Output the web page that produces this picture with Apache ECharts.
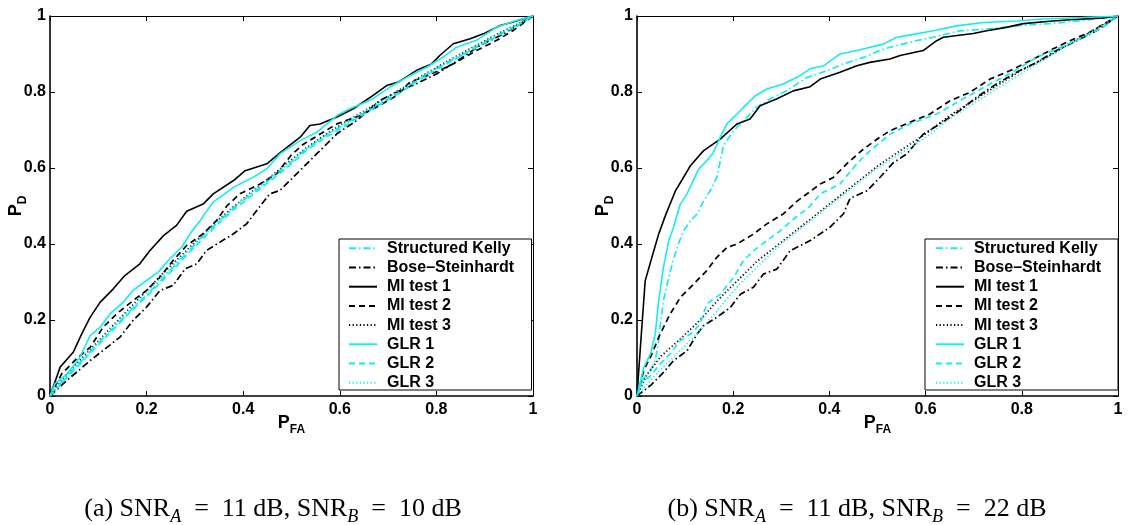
<!DOCTYPE html>
<html><head><meta charset="utf-8">
<script src="https://cdn.jsdelivr.net/npm/echarts@6/dist/echarts.min.js"></script>
<style>html,body{margin:0;padding:0;background:#fff}#c{width:1128px;height:525px}</style>
</head><body><div id="c"></div>
<script>
const seriesNames = ['Structured Kelly','Bose\u2013Steinhardt','MI test 1','MI test 2','MI test 3','GLR 1','GLR 2','GLR 3'];
const tickValues = [0, 0.2, 0.4, 0.6, 0.8, 1];
const captionA = '(a) SNR{s|A}\u2002=\u200211 dB, SNR{s|B}\u2002=\u200210 dB';
const captionB = '(b) SNR{s|A}\u2002=\u200211 dB, SNR{s|B}\u2002=\u200222 dB';

// Panel (a): SNR_A = 11 dB, SNR_B = 10 dB   [P_FA, P_D]
const a_kelly = [[0,0],[0.02,0.03],[0.05,0.072],[0.08,0.112],[0.11,0.152],[0.14,0.19],[0.17,0.23],[0.2,0.265],[0.23,0.305],[0.26,0.345],[0.29,0.385],[0.32,0.425],[0.35,0.46],[0.38,0.495],[0.41,0.525],[0.45,0.565],[0.49,0.605],[0.53,0.65],[0.57,0.685],[0.61,0.715],[0.65,0.745],[0.69,0.775],[0.73,0.805],[0.77,0.84],[0.81,0.87],[0.85,0.895],[0.89,0.925],[0.93,0.952],[0.97,0.978],[1,1]];
const a_bs = [[0,0],[0.035,0.041],[0.059,0.067],[0.083,0.093],[0.11,0.12],[0.145,0.155],[0.172,0.199],[0.2,0.234],[0.228,0.278],[0.255,0.291],[0.28,0.335],[0.304,0.348],[0.324,0.383],[0.352,0.405],[0.38,0.427],[0.407,0.453],[0.428,0.488],[0.455,0.532],[0.476,0.541],[0.511,0.585],[0.552,0.637],[0.594,0.69],[0.635,0.725],[0.683,0.778],[0.725,0.804],[0.759,0.822],[0.801,0.848],[0.849,0.887],[0.89,0.922],[0.939,0.953],[1,1]];
const a_mi1 = [[0,0],[0.021,0.076],[0.048,0.115],[0.066,0.164],[0.083,0.207],[0.104,0.247],[0.131,0.282],[0.155,0.317],[0.186,0.348],[0.207,0.383],[0.235,0.422],[0.262,0.449],[0.283,0.486],[0.317,0.505],[0.338,0.532],[0.38,0.567],[0.404,0.593],[0.449,0.611],[0.476,0.64],[0.518,0.681],[0.538,0.712],[0.559,0.716],[0.594,0.734],[0.628,0.756],[0.669,0.791],[0.697,0.817],[0.721,0.826],[0.759,0.857],[0.79,0.874],[0.807,0.896],[0.835,0.927],[0.87,0.94],[0.897,0.953],[0.932,0.975],[0.959,0.984],[1,1]];
const a_mi2 = [[0,0],[0.024,0.058],[0.055,0.098],[0.083,0.128],[0.11,0.181],[0.138,0.216],[0.172,0.251],[0.2,0.278],[0.228,0.313],[0.255,0.357],[0.283,0.396],[0.317,0.427],[0.345,0.462],[0.366,0.5],[0.393,0.532],[0.435,0.558],[0.469,0.585],[0.5,0.635],[0.524,0.662],[0.594,0.716],[0.642,0.738],[0.676,0.76],[0.718,0.791],[0.745,0.826],[0.773,0.839],[0.807,0.857],[0.835,0.874],[0.883,0.909],[0.925,0.936],[0.959,0.962],[1,1]];
const a_mi3 = [[0,0],[0.02,0.035],[0.05,0.078],[0.08,0.118],[0.11,0.158],[0.14,0.198],[0.17,0.238],[0.2,0.278],[0.23,0.318],[0.26,0.355],[0.29,0.392],[0.32,0.43],[0.35,0.465],[0.38,0.498],[0.41,0.53],[0.45,0.57],[0.49,0.612],[0.53,0.652],[0.57,0.688],[0.61,0.72],[0.65,0.75],[0.69,0.78],[0.73,0.81],[0.77,0.842],[0.81,0.872],[0.85,0.9],[0.89,0.928],[0.93,0.955],[0.97,0.98],[1,1]];
const a_glr1 = [[0,0],[0.01,0.032],[0.035,0.058],[0.062,0.102],[0.083,0.159],[0.104,0.181],[0.124,0.216],[0.152,0.247],[0.172,0.278],[0.2,0.304],[0.224,0.326],[0.248,0.361],[0.273,0.392],[0.29,0.427],[0.311,0.462],[0.328,0.493],[0.338,0.51],[0.38,0.549],[0.421,0.576],[0.449,0.598],[0.476,0.637],[0.518,0.672],[0.552,0.694],[0.594,0.738],[0.621,0.756],[0.663,0.778],[0.704,0.813],[0.745,0.843],[0.78,0.865],[0.814,0.892],[0.842,0.918],[0.883,0.936],[0.925,0.971],[0.966,0.988],[1,1]];
const a_glr2 = [[0,0],[0.02,0.028],[0.05,0.068],[0.08,0.108],[0.11,0.148],[0.14,0.186],[0.17,0.226],[0.2,0.262],[0.23,0.3],[0.26,0.34],[0.29,0.38],[0.32,0.418],[0.35,0.455],[0.38,0.49],[0.41,0.52],[0.45,0.56],[0.49,0.6],[0.53,0.645],[0.57,0.68],[0.61,0.71],[0.65,0.742],[0.69,0.772],[0.73,0.802],[0.77,0.836],[0.81,0.866],[0.85,0.894],[0.89,0.922],[0.93,0.95],[0.97,0.977],[1,1]];
const a_glr3 = [[0,0],[0.02,0.032],[0.05,0.074],[0.08,0.114],[0.11,0.155],[0.14,0.194],[0.17,0.234],[0.2,0.272],[0.23,0.312],[0.26,0.35],[0.29,0.388],[0.32,0.426],[0.35,0.462],[0.38,0.496],[0.41,0.528],[0.45,0.568],[0.49,0.608],[0.53,0.65],[0.57,0.686],[0.61,0.718],[0.65,0.748],[0.69,0.778],[0.73,0.808],[0.77,0.84],[0.81,0.87],[0.85,0.898],[0.89,0.926],[0.93,0.953],[0.97,0.979],[1,1]];

// Panel (b): SNR_A = 11 dB, SNR_B = 22 dB   [P_FA, P_D]
const b_kelly = [[0,0],[0.01,0.04],[0.028,0.067],[0.038,0.093],[0.045,0.146],[0.048,0.181],[0.055,0.251],[0.066,0.312],[0.076,0.361],[0.086,0.4],[0.097,0.435],[0.111,0.461],[0.125,0.479],[0.138,0.512],[0.152,0.54],[0.166,0.575],[0.18,0.66],[0.201,0.698],[0.221,0.724],[0.249,0.76],[0.277,0.782],[0.311,0.803],[0.353,0.838],[0.395,0.856],[0.429,0.874],[0.471,0.891],[0.512,0.913],[0.581,0.935],[0.616,0.944],[0.671,0.961],[0.72,0.965],[0.789,0.974],[0.858,0.98],[0.927,0.988],[1,1]];
const b_bs = [[0,0],[0.03,0.03],[0.052,0.058],[0.076,0.093],[0.104,0.119],[0.125,0.163],[0.138,0.185],[0.166,0.207],[0.194,0.233],[0.215,0.268],[0.242,0.286],[0.263,0.321],[0.291,0.334],[0.318,0.382],[0.36,0.409],[0.401,0.444],[0.429,0.479],[0.443,0.52],[0.478,0.54],[0.505,0.575],[0.533,0.614],[0.561,0.637],[0.595,0.689],[0.63,0.716],[0.671,0.751],[0.706,0.786],[0.747,0.821],[0.789,0.852],[0.831,0.878],[0.872,0.909],[0.914,0.935],[0.955,0.961],[1,1]];
const b_mi1 = [[0,0],[0.007,0.128],[0.017,0.303],[0.031,0.365],[0.045,0.426],[0.06,0.478],[0.08,0.54],[0.111,0.606],[0.138,0.645],[0.173,0.676],[0.208,0.716],[0.235,0.729],[0.256,0.764],[0.291,0.782],[0.325,0.803],[0.36,0.814],[0.381,0.834],[0.422,0.852],[0.457,0.869],[0.484,0.878],[0.526,0.887],[0.547,0.896],[0.595,0.909],[0.623,0.935],[0.637,0.944],[0.699,0.954],[0.727,0.961],[0.768,0.97],[0.803,0.98],[0.858,0.986],[0.9,0.99],[0.941,0.993],[0.969,0.995],[1,1]];
const b_mi2 = [[0,0],[0.014,0.067],[0.031,0.111],[0.048,0.163],[0.069,0.216],[0.09,0.259],[0.118,0.295],[0.145,0.33],[0.166,0.365],[0.187,0.391],[0.208,0.4],[0.242,0.426],[0.27,0.453],[0.304,0.479],[0.332,0.512],[0.381,0.558],[0.408,0.575],[0.436,0.611],[0.471,0.65],[0.505,0.681],[0.526,0.698],[0.567,0.72],[0.609,0.742],[0.651,0.777],[0.692,0.799],[0.734,0.834],[0.775,0.856],[0.817,0.882],[0.858,0.909],[0.9,0.935],[0.941,0.957],[0.983,0.988],[1,1]];
const b_mi3 = [[0,0],[0.02,0.055],[0.05,0.105],[0.09,0.15],[0.13,0.198],[0.17,0.255],[0.21,0.305],[0.25,0.355],[0.3,0.405],[0.35,0.455],[0.4,0.505],[0.45,0.555],[0.5,0.605],[0.55,0.648],[0.6,0.69],[0.65,0.738],[0.7,0.778],[0.75,0.818],[0.8,0.858],[0.85,0.89],[0.9,0.928],[0.95,0.963],[1,1]];
const b_glr1 = [[0,0],[0.014,0.075],[0.028,0.111],[0.038,0.163],[0.045,0.251],[0.055,0.338],[0.066,0.409],[0.076,0.444],[0.083,0.475],[0.09,0.505],[0.104,0.532],[0.128,0.597],[0.145,0.619],[0.159,0.641],[0.173,0.681],[0.187,0.716],[0.208,0.742],[0.228,0.768],[0.246,0.79],[0.27,0.808],[0.304,0.821],[0.339,0.843],[0.36,0.861],[0.388,0.869],[0.408,0.887],[0.422,0.9],[0.457,0.909],[0.512,0.926],[0.54,0.944],[0.581,0.953],[0.616,0.961],[0.664,0.974],[0.72,0.983],[0.789,0.987],[0.844,0.992],[0.927,0.996],[1,1]];
const b_glr2 = [[0,0],[0.01,0.036],[0.028,0.053],[0.048,0.084],[0.069,0.111],[0.09,0.146],[0.111,0.163],[0.131,0.189],[0.145,0.242],[0.173,0.268],[0.201,0.312],[0.221,0.356],[0.242,0.382],[0.27,0.409],[0.298,0.435],[0.325,0.465],[0.36,0.5],[0.381,0.532],[0.422,0.558],[0.457,0.611],[0.484,0.645],[0.526,0.689],[0.567,0.716],[0.623,0.742],[0.678,0.782],[0.734,0.821],[0.775,0.848],[0.831,0.891],[0.872,0.913],[0.927,0.944],[0.969,0.97],[1,1]];
const b_glr3 = [[0,0],[0.02,0.03],[0.05,0.07],[0.09,0.12],[0.13,0.17],[0.17,0.23],[0.21,0.29],[0.25,0.34],[0.3,0.4],[0.35,0.45],[0.4,0.5],[0.45,0.55],[0.5,0.6],[0.55,0.64],[0.6,0.68],[0.65,0.73],[0.7,0.77],[0.75,0.81],[0.8,0.85],[0.85,0.888],[0.9,0.926],[0.95,0.962],[1,1]];

const panelA = [a_kelly, a_bs, a_mi1, a_mi2, a_mi3, a_glr1, a_glr2, a_glr3];
const panelB = [b_kelly, b_bs, b_mi1, b_mi2, b_mi3, b_glr1, b_glr2, b_glr3];

const CYAN = '#12eef0', BLACK = '#000000';
const DASHDOT = [7,3,1.5,3], DASH = [6,4], DOT = [1.2,2.4];
const styles = [
  {color: CYAN, type: DASHDOT}, {color: BLACK, type: DASHDOT},
  {color: BLACK, type: 'solid'}, {color: BLACK, type: DASH}, {color: BLACK, type: DOT},
  {color: CYAN, type: 'solid'}, {color: CYAN, type: DASH}, {color: CYAN, type: DOT}
];

const FONT = 'Liberation Sans, Arial, Helvetica, sans-serif';
const SERIF = 'Liberation Serif, Times New Roman, serif';
const grids = [
  {left: 50, top: 16, width: 483, height: 380},
  {left: 637, top: 16, width: 481, height: 380}
];
const nameRich = {
  p: {fontSize: 18, fontWeight: 'bold', fontFamily: FONT, color: '#000', lineHeight: 26, verticalAlign: 'middle'},
  s: {fontSize: 12, fontWeight: 'bold', fontFamily: FONT, color: '#000', lineHeight: 26, verticalAlign: 'bottom'}
};
const tickFont = {color: '#000', fontSize: 16, fontWeight: 'bold', fontFamily: FONT};
function mainX(i) {
  return {type: 'value', gridIndex: i, min: 0, max: 1, interval: 0.2, position: 'bottom',
    name: '{p|P}{s|FA}', nameLocation: 'middle', nameGap: 14, nameMoveOverlap: false, nameTextStyle: {rich: nameRich},
    axisLine: {show: true, lineStyle: {color: '#000', width: 1.6}},
    axisTick: {show: true, inside: true, length: 5, lineStyle: {color: '#000', width: 1}},
    axisLabel: Object.assign({show: true, margin: 6, formatter: v => String(+v.toFixed(1))}, tickFont),
    splitLine: {show: false}};
}
function mainY(i) {
  return {type: 'value', gridIndex: i, min: 0, max: 1, interval: 0.2, position: 'left',
    name: '{p|P}{s|D}', nameLocation: 'middle', nameGap: 21, nameRotate: 90, nameMoveOverlap: false, nameTextStyle: {rich: nameRich},
    axisLine: {show: true, lineStyle: {color: '#000', width: 1.6}},
    axisTick: {show: true, inside: true, length: 5, lineStyle: {color: '#000', width: 1}},
    axisLabel: Object.assign({show: true, margin: 4, formatter: v => String(+v.toFixed(1))}, tickFont),
    splitLine: {show: false}};
}
function mirror(i, pos) {
  return {type: 'value', gridIndex: i, min: 0, max: 1, interval: 0.2, position: pos,
    axisLine: {show: true, onZero: false, lineStyle: {color: '#000', width: 1}},
    axisTick: {show: true, inside: true, length: 5, lineStyle: {color: '#000', width: 1}},
    axisLabel: {show: false}, splitLine: {show: false}};
}
const xAxis = [mainX(0), mainX(1), mirror(0, 'top'), mirror(1, 'top')];
const yAxis = [mainY(0), mainY(1), mirror(0, 'right'), mirror(1, 'right')];

const series = [];
[panelA, panelB].forEach((panel, gi) => {
  panel.forEach((data, k) => {
    series.push({
      type: 'line', name: seriesNames[k], xAxisIndex: gi, yAxisIndex: gi,
      data: data, showSymbol: false, symbol: 'none', symbolSize: 0, smooth: false, animation: false,
      lineStyle: {color: styles[k].color, type: styles[k].type, width: (styles[k].type === 'solid' ? 1.6 : 1.7)},
      itemStyle: {color: styles[k].color}, z: 3
    });
  });
});

function legendItems(left) {
  return {show: true, orient: 'vertical', left: left, top: 240.3, padding: 0,
    itemWidth: 28, itemHeight: 14, itemGap: 3.2, selectedMode: false, z: 10,
    data: seriesNames,
    itemStyle: {color: 'rgba(0,0,0,0)', borderColor: 'rgba(0,0,0,0)', borderWidth: 0, opacity: 0},
    textStyle: {color: '#000', fontSize: 16, fontWeight: 'bold', fontFamily: FONT, lineHeight: 16, padding: [0,0,0,5]}};
}

const capRich = {
  s: {fontSize: 18, fontStyle: 'italic', fontFamily: SERIF, color: '#000', verticalAlign: 'bottom', lineHeight: 34}
};
const capStyle = {rich: capRich, align: 'center', verticalAlign: 'middle', fontSize: 26, fontFamily: SERIF, fill: '#000', lineHeight: 34};
const option = {
  backgroundColor: '#fff',
  animation: false,
  grid: grids.map(g => Object.assign({show: false, containLabel: false}, g)),
  xAxis, yAxis, series,
  legend: [legendItems(348), legendItems(935)],
  graphic: [
    {type: 'rect', shape: {x: 339, y: 239, width: 192.5, height: 151}, style: {fill: '#fff', stroke: '#000', lineWidth: 1}, z: 5},
    {type: 'rect', shape: {x: 925, y: 239, width: 193, height: 151}, style: {fill: '#fff', stroke: '#000', lineWidth: 1}, z: 5},
    {type: 'text', x: 273, y: 509, z: 5, style: Object.assign({text: captionA}, capStyle)},
    {type: 'text', x: 857, y: 509, z: 5, style: Object.assign({text: captionB}, capStyle)}
  ]
};
const chart = echarts.init(document.getElementById('c'), null, {renderer: 'canvas'});
chart.setOption(option);
</script></body></html>
